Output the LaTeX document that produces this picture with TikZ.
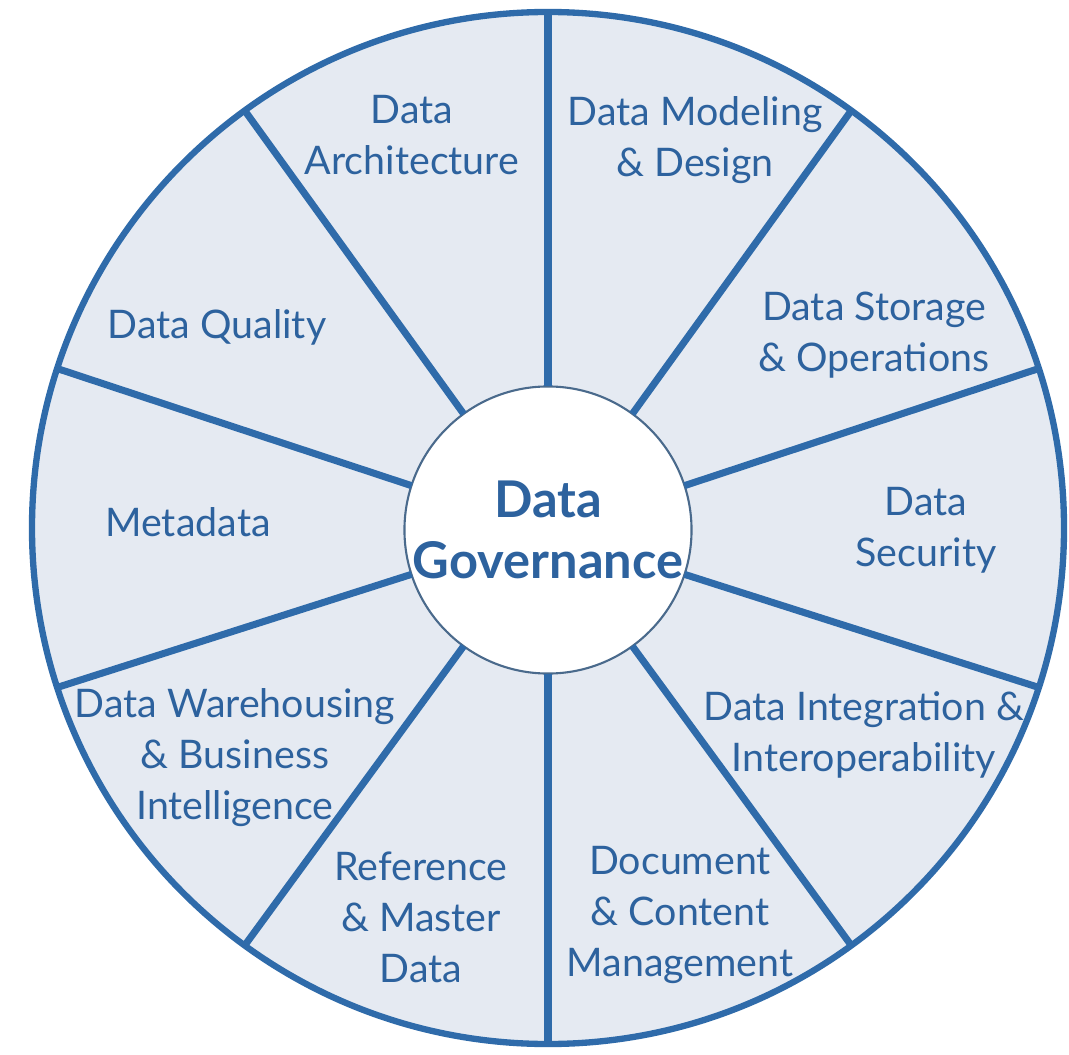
\documentclass[tikz,border=0pt]{standalone}
\usepackage{fontspec}
\setmainfont{Lato}
\definecolor{rimblue}{HTML}{2F6BAA}
\definecolor{labelblue}{HTML}{2D629E}
\definecolor{sectorfill}{HTML}{E5EAF2}
\definecolor{hubline}{HTML}{4A6A8C}
\tikzset{
  rim/.style={circle,draw=rimblue,line width=1.8pt,fill=sectorfill,minimum size=10.32cm,inner sep=0pt,outer sep=0pt},
  hub/.style={circle,draw=hubline,line width=0.6pt,fill=white,minimum size=2.86cm,inner sep=0pt,outer sep=0pt,
    font=\fontsize{14.4}{17.5}\selectfont\bfseries,text=labelblue,align=center},
  spoke/.style={rimblue,line width=2pt},
  area/.style={font=\fontsize{11.2}{14.5}\selectfont,text=labelblue,align=center}
}
\begin{document}
\begin{tikzpicture}
\useasboundingbox (-5.48,-5.26) rectangle (5.21,5.28);
\node[rim] (rim) at (0,0) {};
\node[hub] (hub) at (0,-0.02) {Data\\Governance};
\foreach \a in {90,54,18,-18,-54,-90,-126,-162,162,126}
  \draw[spoke] (hub.\a) -- (rim.\a);
%
\node[area] (arch) at (-1.36,3.93) {Data\\Architecture};
\node[area] (model) at (1.47,3.88) {Data Modeling\\\& Design};
\node[area] (store) at (3.26,1.93) {Data Storage\\\& Operations};
\node[area] (secur) at (3.78,-0.02) {Data\\Security};
\node[area] (integ) at (3.16,-2.07) {Data Integration \&\\Interoperability};
\node[area] (docs) at (1.32,-3.87) {Document\\\& Content\\Management};
\node[area] (refmd) at (-1.27,-3.89) {Reference\\\& Master\\Data};
\node[area] (dwbi) at (-3.13,-2.30) {Data Warehousing\\\& Business\\Intelligence};
\node[area] (meta) at (-3.60,0.06) {Metadata};
\node[area] (qual) at (-3.31,2.01) {Data Quality};
\end{tikzpicture}
\end{document}
